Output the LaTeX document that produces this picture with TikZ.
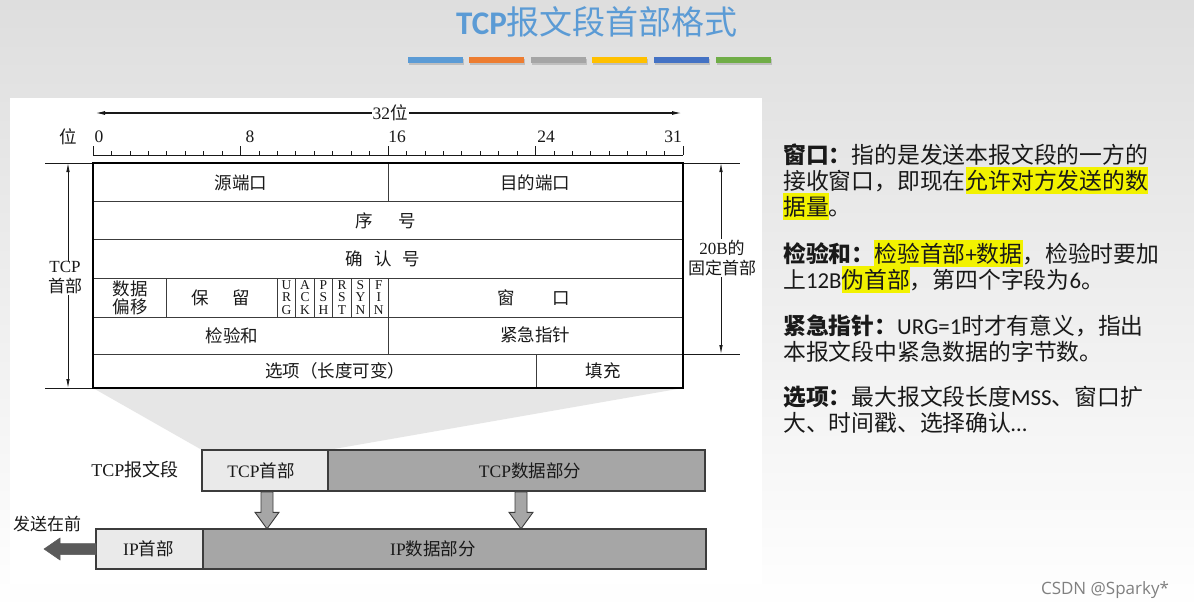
\documentclass[tikz,border=0pt]{standalone}
\usepackage{fontspec}
\setmainfont{Liberation Serif}
\newfontfamily\cjk{Noto Sans CJK SC}
\newfontfamily\cali{Carlito}
\newfontfamily\wmfont{Open Sans}
\usetikzlibrary{arrows.meta}
\definecolor{bgtop}{RGB}{222,222,222}
\definecolor{titleblue}{RGB}{91,155,213}
\definecolor{barA}{RGB}{91,155,213}
\definecolor{barB}{RGB}{237,125,49}
\definecolor{barC}{RGB}{165,165,165}
\definecolor{barD}{RGB}{255,192,0}
\definecolor{barE}{RGB}{68,114,196}
\definecolor{barF}{RGB}{112,173,71}
\definecolor{hly}{RGB}{242,242,0}
\definecolor{lightcell}{RGB}{234,234,234}
\definecolor{darkcell}{RGB}{166,166,166}
\definecolor{trapgray}{RGB}{230,230,230}
\definecolor{linegray}{RGB}{60,60,60}
\definecolor{sendgray}{RGB}{90,90,90}
\definecolor{txt}{RGB}{25,25,25}
\newcommand\zh[1]{{\cjk #1}}
\newcommand\hlt[1]{{\setlength{\fboxsep}{0pt}\colorbox{hly}{\rule[-5pt]{0pt}{27pt}#1}}}
\begin{document}
\begin{tikzpicture}[x=1pt,y=-1pt,
  dimarrow/.style={line width=0.8pt, draw=txt, {Latex[length=9pt,width=3.5pt]}-{Latex[length=9pt,width=3.5pt]}},
  widearrow/.style={line width=1.3pt, draw=txt, {Latex[length=10pt,width=4pt]}-{Latex[length=10pt,width=4pt]}},
  extline/.style={line width=0.8pt, draw=txt},
  outerline/.style={line width=1.4pt, draw=black},
  innerline/.style={line width=0.9pt, draw=linegray},
  lbl/.style={font=\fontsize{17.5}{20}\selectfont, inner sep=1pt, text=txt},
  flag/.style={font=\fontsize{13.5}{12.3}\selectfont, align=center, inner sep=0pt, text=txt},
  cellbox/.style={draw=linegray, line width=1.3pt, inner sep=0pt, outer sep=0pt},
  blockarr/.style={fill=darkcell, draw=linegray, line width=0.9pt, line join=miter},
  sendarr/.style={fill=sendgray, draw=sendgray, line width=0.5pt},
  rtext/.style={anchor=base west, inner sep=0pt, font=\cjk\fontsize{22.8}{27}\selectfont, text=txt},
]
\useasboundingbox (0,0) rectangle (1194,611);
\shade[top color=bgtop, bottom color=white] (0,0) rectangle (1194,611);
\fill[white] (10,98) rectangle (762,584);

% title
\node[text=titleblue, inner sep=0pt] (title) at (597,22) {{\cali\bfseries\fontsize{33}{36}\selectfont TCP}{\cjk\fontsize{33}{36}\selectfont 报文段首部格式}};
\foreach \xa/\col in {408/barA,469/barB,531/barC,592/barD,654/barE,716/barF}{
  \fill[gray, opacity=0.35] (\xa+1,58.5) rectangle (\xa+56,64.5);
  \fill[\col] (\xa,57) rectangle (\xa+55,63);
}

% 32 bit arrow
\coordinate (wl) at (95,113);
\coordinate (wr) at (682,113);
\draw[widearrow] (wl) -- (wr);
\node[lbl, fill=white] (w32) at (390,113) {32\zh{位}};

% ruler
\node[lbl] (bitw) at (68,137) {\zh{位}};
\node[lbl] (b0) at (99,137) {0};
\node[lbl] (b8) at (250,137) {8};
\node[lbl] (b16) at (397,137) {16};
\node[lbl] (b24) at (546,137) {24};
\node[lbl] (b31) at (673,137) {31};
\draw[line width=1pt, draw=txt] (93,155) -- (683,155);
\foreach \i in {1,...,31}{ \draw[line width=0.7pt, draw=txt] (93+\i*18.4375,155) -- ++(0,-4.5); }
\foreach \i in {0,8,16,24,32}{ \draw[line width=0.9pt, draw=txt] (93+\i*18.4375,155) -- ++(0,-9.5); }

% trapezoid
\fill[trapgray] (93,388) -- (683,388) -- (328,450) -- (202,450) -- cycle;

% extension lines and dimension arrows
\draw[extline] (45,163) -- (93,163);
\draw[extline] (45,388) -- (93,388);
\draw[extline] (683,163) -- (740,163);
\draw[extline] (683,354) -- (740,354);
\coordinate (lt) at (68,163);
\coordinate (lb) at (68,388);
\coordinate (rt) at (721,163);
\coordinate (rb) at (721,354);
\draw[dimarrow] (lt) -- (lb);
\draw[dimarrow] (rt) -- (rb);
\node[lbl, fill=white, align=center, font=\fontsize{17}{20}\selectfont] (tcphdr) at (65,278) {TCP\\\zh{首部}};
\node[lbl, fill=white, align=center, font=\fontsize{17}{20}\selectfont] (fixed) at (722,258) {20B\zh{的}\\\zh{固定首部}};

% table
\fill[white] (93,163) rectangle (683,388);
\draw[innerline] (93,201.3) -- (683,201.3);
\draw[innerline] (93,239.7) -- (683,239.7);
\draw[innerline] (93,278) -- (683,278);
\draw[innerline] (93,317) -- (683,317);
\draw[innerline] (93,354) -- (683,354);
\draw[innerline] (388,163) -- (388,201.3);
\draw[innerline] (166.75,278) -- (166.75,317);
\foreach \k in {0,...,5}{ \draw[innerline] (277.4+\k*18.44,278) -- (277.4+\k*18.44,317); }
\draw[innerline] (388,278) -- (388,354);
\draw[innerline] (536,354) -- (536,388);
\draw[outerline] (93,163) rectangle (683,388);

\node[lbl] (srcp) at (241,183) {\zh{源端口}};
\node[lbl] (dstp) at (535,183) {\zh{目的端口}};
\node[lbl] (seq) at (386,221) {\zh{序\hspace{26pt}号}};
\node[lbl] (ackn) at (383,259) {\zh{确\hspace{11pt}认\hspace{11pt}号}};
\node[lbl, align=center, font=\fontsize{17.5}{18}\selectfont] (doff) at (130,297.5) {\zh{数据}\\\zh{偏移}};
\node[lbl] (resv) at (221,297.5) {\zh{保\hspace{24pt}留}};
\node[flag] (fURG) at (286.6,297.5) {U\\R\\G};
\node[flag] (fACK) at (305.1,297.5) {A\\C\\K};
\node[flag] (fPSH) at (323.5,297.5) {P\\S\\H};
\node[flag] (fRST) at (342.0,297.5) {R\\S\\T};
\node[flag] (fSYN) at (360.4,297.5) {S\\Y\\N};
\node[flag] (fFIN) at (378.8,297.5) {F\\I\\N};
\node[lbl] (win) at (534,297.5) {\zh{窗\hspace{38pt}口}};
\node[lbl] (chk) at (232,336) {\zh{检验和}};
\node[lbl] (urgp) at (535,334.5) {\zh{紧急指针}};
\node[lbl] (opt) at (335,371) {\zh{选项（长度可变）}};
\node[lbl] (pad) at (603,371) {\zh{填充}};

% bottom segments
\node[lbl, font=\fontsize{18}{20}\selectfont] (seglbl) at (135,470) {TCP\zh{报文段}};
\node[cellbox, fill=lightcell, minimum width=126, minimum height=41] (tcph) at (265,470.5) {};
\node[cellbox, fill=darkcell, minimum width=377, minimum height=41] (tcpd) at (516.5,470.5) {};
\node[cellbox, fill=lightcell, minimum width=107, minimum height=40] (iph) at (149.5,549) {};
\node[cellbox, fill=darkcell, minimum width=503, minimum height=40] (ipd) at (454.5,549) {};
\draw[cellbox] (tcph.north west) rectangle (tcpd.south east);
\draw[cellbox] (iph.north west) rectangle (ipd.south east);
\node[lbl] (tcphtxt) at (261,470.5) {TCP\zh{首部}};
\node[lbl] (tcpdtxt) at (530,470.5) {TCP\zh{数据部分}};
\node[lbl] (iphtxt) at (148.5,549) {IP\zh{首部}};
\node[lbl] (ipdtxt) at (433,549) {IP\zh{数据部分}};

\coordinate (a1) at (267,491.8);
\coordinate (a2) at (521,491.8);
\foreach \a in {a1,a2}{
  \draw[blockarr] (\a) ++(-6,0) -- ++(0,20.5) -- ++(-6,0) -- ++(12,16.5) -- ++(12,-16.5) -- ++(-6,0) -- ++(0,-20.5) -- cycle;
}
\draw[sendarr] (iph.west) ++(0,-5.5) -- ++(-36,0) -- ++(0,-5.5) -- ++(-16,11) -- ++(16,11) -- ++(0,-5.5) -- ++(36,0) -- cycle;
\node[lbl, font=\fontsize{17}{19}\selectfont] (sendfirst) at (47,524) {\zh{发送在前}};

% right text
\node[rtext] (r1) at (783,163) {{\bfseries 窗口：}指的是发送本报文段的一方的};
\node[rtext] (r2) at (783,189) {接收窗口，即现在\hlt{允许对方发送的数}};
\node[rtext] (r3) at (783,215) {\hlt{据量}。};
\node[rtext] (r4) at (783,262) {{\bfseries 检验和：}\hlt{检验首部{\cali +}数据}，检验时要加};
\node[rtext] (r5) at (783,288) {上{\cali 12B}\hlt{伪首部}，第四个字段为{\cali 6}。};
\node[rtext] (r6) at (783,334) {{\bfseries 紧急指针：}{\cali URG=1}时才有意义，指出};
\node[rtext] (r7) at (783,360) {本报文段中紧急数据的字节数。};
\node[rtext] (r8) at (783,405) {{\bfseries 选项：}最大报文段长度{\cali MSS}、窗口扩};
\node[rtext] (r9) at (783,431) {大、时间戳、选择确认{\cali …}};

\node[text=gray, font=\wmfont\fontsize{17}{20}\selectfont, inner sep=0pt] (wm) at (1105,590) {CSDN @Sparky*};
\end{tikzpicture}
\end{document}
